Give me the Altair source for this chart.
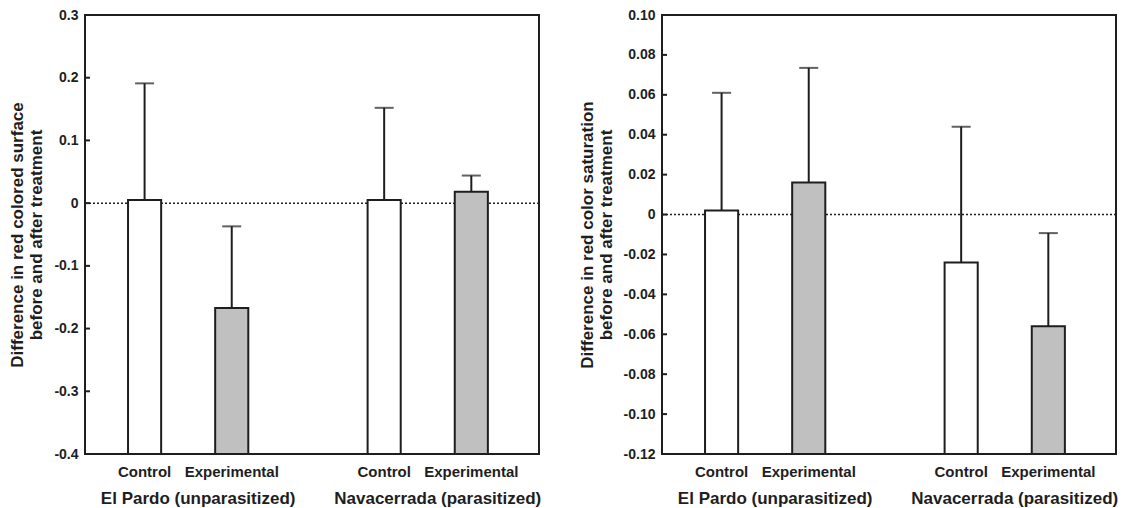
import altair as alt
import pandas as pd

# Groups and treatments shared by both panels
site_order = ["El Pardo (unparasitized)", "Navacerrada (parasitized)"]
treat_order = ["Control", "Experimental"]
sites = ["El Pardo (unparasitized)", "El Pardo (unparasitized)",
         "Navacerrada (parasitized)", "Navacerrada (parasitized)"]
treatments = ["Control", "Experimental", "Control", "Experimental"]

# Panel 1: change in red colored surface (mean and top of the SE bar)
surface_mean = [0.005, -0.167, 0.005, 0.018]
surface_upper = [0.191, -0.037, 0.152, 0.044]
surface_ticks = [-0.4, -0.3, -0.2, -0.1, 0.0, 0.1, 0.2, 0.3]
surface_title = ["Difference in red colored surface", "before and after treatment"]

# Panel 2: change in red color saturation
saturation_mean = [0.002, 0.016, -0.024, -0.056]
saturation_upper = [0.061, 0.0735, 0.044, -0.0093]
saturation_ticks = [-0.12, -0.10, -0.08, -0.06, -0.04, -0.02, 0.0, 0.02, 0.04, 0.06, 0.08, 0.10]
saturation_title = ["Difference in red color saturation", "before and after treatment"]

INK = "#1e1e1e"
GREY = "#c0c0c0"
FONT = "Liberation Sans"
W, H = 454, 439


def panel(mean, upper, ticks, decimals, title):
    df = pd.DataFrame({"site": sites, "treatment": treatments,
                       "mean": mean, "upper": upper})
    ymin, ymax = ticks[0], ticks[-1]
    yscale = alt.Scale(domain=[ymin, ymax], nice=False, zero=False)

    x = alt.X("site:N", sort=site_order, axis=None,
              scale=alt.Scale(domain=site_order, paddingInner=0.498,
                              paddingOuter=0.1965, align=0.457))
    xo = alt.XOffset("treatment:N", sort=treat_order,
                     scale=alt.Scale(domain=treat_order, paddingInner=0.62,
                                     paddingOuter=0))

    label_expr = (
        "datum.value == 0 ? '0' : (datum.value < 0 ? '-' : '') + "
        f"format(abs(datum.value), '.{decimals}f')"
    )
    yaxis = alt.Axis(values=ticks, labelExpr=label_expr, ticks=False,
                     labelOverlap=False, labelFlush=False,
                     domain=False, grid=False, labelFontSize=14,
                     labelFontWeight="bold", labelColor=INK, labelPadding=7,
                     title=title, titleFontSize=17, titleFontWeight="bold",
                     titleColor=INK, titlePadding=8, titleLineHeight=19)

    base = alt.Chart(df)

    zero_line = alt.Chart(pd.DataFrame({"v": [0.0]})).mark_rule(
        color=INK, strokeWidth=1.5, strokeDash=[2, 2]
    ).encode(y=alt.Y("v:Q", scale=yscale, axis=yaxis))

    inner_ticks = alt.Chart(pd.DataFrame({"v": ticks})).mark_rule(
        color=INK, strokeWidth=2
    ).encode(y=alt.Y("v:Q", scale=yscale, axis=yaxis),
             x=alt.value(0), x2=alt.value(5))

    bars = base.mark_bar(stroke=INK, strokeWidth=2).encode(
        x=x, xOffset=xo,
        y=alt.Y("mean:Q", scale=yscale, axis=yaxis),
        y2=alt.datum(ymin),
        color=alt.Color("treatment:N", legend=None,
                        scale=alt.Scale(domain=treat_order, range=["white", GREY])),
    )

    stems = base.mark_rule(color=INK, strokeWidth=2).encode(
        x=x, xOffset=xo, y=alt.Y("mean:Q", scale=yscale, axis=yaxis), y2="upper:Q")

    caps = base.mark_tick(color=INK, thickness=2, size=19, orient="horizontal").encode(
        x=x, xOffset=xo, y=alt.Y("upper:Q", scale=yscale, axis=yaxis))

    # plot frame
    frame = alt.Chart(pd.DataFrame({"v": [0]})).mark_rect(
        fill=None, stroke=INK, strokeWidth=2
    ).encode(x=alt.value(0), x2=alt.value(W), y=alt.value(0), y2=alt.value(H))

    treat_labels = base.mark_text(font=FONT, fontSize=15, fontWeight="bold",
                                  color=INK, baseline="middle").encode(
        x=x, xOffset=xo, y=alt.value(H + 18), text="treatment:N")

    site_labels = alt.Chart(pd.DataFrame({"site": site_order})).mark_text(
        font=FONT, fontSize=17, fontWeight="bold", color=INK,
        baseline="middle", dx=10
    ).encode(x=x, y=alt.value(H + 45), text="site:N")

    return alt.layer(zero_line, inner_ticks, bars, stems, caps, frame,
                     treat_labels, site_labels).properties(width=W, height=H)


left = panel(surface_mean, surface_upper, surface_ticks, 1, surface_title)
right = panel(saturation_mean, saturation_upper, saturation_ticks, 2, saturation_title)

chart = alt.hconcat(left, right, spacing=35).properties(
    padding={"left": 8, "top": 7, "right": 0, "bottom": 0}
).configure_view(
    strokeWidth=0
).configure_axis(
    labelFont=FONT, titleFont=FONT, labelOverlap=False
).configure(background="white")

chart.save("out.html", embed_options={"renderer": "svg", "actions": False})
